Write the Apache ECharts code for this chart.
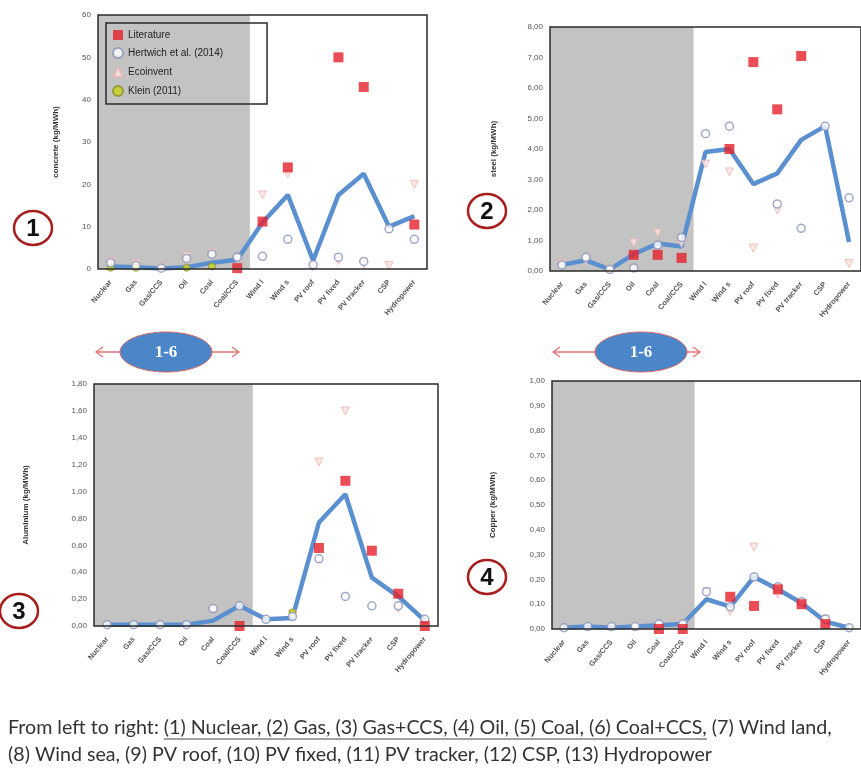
<!DOCTYPE html>
<html>
<head>
<meta charset="utf-8">
<script src="https://cdn.jsdelivr.net/npm/echarts@6/dist/echarts.min.js"></script>
<style>html,body{margin:0;padding:0;background:#fff;}#c{width:861px;height:769px;}</style>
</head>
<body>
<div id="c"></div>
<script>
// ---------------- DATA ----------------
const categories = ['Nuclear','Gas','Gas/CCS','Oil','Coal','Coal/CCS','Wind l','Wind s','PV roof','PV fixed','PV tracker','CSP','Hydropower'];
const shadedCount = 6; // technologies 1-6

// (1) concrete (kg/MWh)
const concreteMean      = [0.6, 0.4, 0.1, 0.4, 1.5, 2.2, 11, 17.5, 2, 17.5, 22.5, 10, 12.5];
const concreteLit       = [null, null, null, null, null, 0.2, 11.2, 24, null, 50, 43, null, 10.5];
const concreteHertwich  = [1.5, 0.8, 0.2, 2.5, 3.5, 2.8, 3, 7, 1, 2.8, 1.8, 9.5, 7];
const concreteEcoinvent = [1.8, 1.2, 0.3, 3, 3.8, 2.5, 17.5, 22.5, 0.5, 2, 1.2, 0.8, 20];
const concreteKlein     = [0.3, 0.3, null, 0.3, 0.6, null, null, null, null, null, null, null, null];

// (2) steel (kg/MWh)
const steelMean      = [0.2, 0.35, 0.05, 0.55, 0.9, 0.8, 3.9, 4.0, 2.85, 3.2, 4.3, 4.75, 0.95];
const steelLit       = [null, null, null, 0.53, 0.53, 0.43, null, 4.0, 6.85, 5.3, 7.05, null, null];
const steelHertwich  = [0.2, 0.45, 0.05, 0.1, 0.85, 1.1, 4.5, 4.75, null, 2.2, 1.4, 4.75, 2.4];
const steelEcoinvent = [0.25, 0.35, 0.05, 0.92, 1.25, 0.9, 3.5, 3.25, 0.75, 2.0, null, null, 0.25];
const steelKlein     = [null, null, null, null, null, null, null, null, null, null, null, null, null];

// (3) Aluminium (kg/MWh)
const alMean      = [0.01, 0.01, 0.01, 0.01, 0.04, 0.15, 0.05, 0.06, 0.77, 0.98, 0.36, 0.22, 0.04];
const alLit       = [null, null, null, null, null, 0.0, null, null, 0.58, 1.08, 0.56, 0.24, 0.0];
const alHertwich  = [0.01, 0.01, 0.01, 0.01, 0.13, 0.15, 0.05, 0.07, 0.5, 0.22, 0.15, 0.15, 0.05];
const alEcoinvent = [null, null, null, null, 0.12, null, null, 0.09, 1.22, 1.6, null, 0.13, null];
const alKlein     = [null, null, null, null, null, null, null, 0.1, null, null, null, null, null];

// (4) Copper (kg/MWh)
const cuMean      = [0.005, 0.01, 0.005, 0.01, 0.015, 0.02, 0.12, 0.09, 0.21, 0.16, 0.105, 0.03, 0.005];
const cuLit       = [null, null, null, null, 0.0, 0.0, null, 0.13, 0.093, 0.16, 0.1, 0.02, null];
const cuHertwich  = [0.005, 0.01, 0.01, 0.01, 0.02, 0.02, 0.15, 0.09, 0.21, 0.17, 0.11, 0.04, 0.005];
const cuEcoinvent = [null, null, null, 0.01, 0.01, 0.02, 0.15, 0.07, 0.33, 0.14, null, 0.04, null];
const cuKlein     = [null, null, null, null, null, null, null, null, null, null, null, null, null];

const seriesNames = ['Literature', 'Hertwich et al. (2014)', 'Ecoinvent', 'Klein (2011)'];
const captionLine1 = 'From left to right: (1) Nuclear, (2) Gas, (3) Gas+CCS, (4) Oil, (5) Coal, (6) Coal+CCS, (7) Wind land,';
const captionLine2 = '(8) Wind sea, (9) PV roof, (10) PV fixed, (11) PV tracker, (12) CSP, (13) Hydropower';
const captionPrefix = 'From left to right: ';
const captionUnderlined = '(1) Nuclear, (2) Gas, (3) Gas+CCS, (4) Oil, (5) Coal, (6) Coal+CCS,';

// ---------------- CHART ----------------
const chart = echarts.init(document.getElementById('c'), null, {renderer: 'canvas'});
const FONT = '"Liberation Sans", Arial, sans-serif';

const panels = [
  {grid: {left: 98, top: 15, width: 329, height: 254}, max: 60, interval: 10, fmt: v => String(v),
   name: 'concrete (kg/MWh)', nameGap: 38,
   mean: concreteMean, lit: concreteLit, her: concreteHertwich, eco: concreteEcoinvent, kle: concreteKlein},
  {grid: {left: 550, top: 27, width: 319, height: 244}, max: 8, interval: 1, fmt: v => v.toFixed(2).replace('.', ','),
   name: 'steel (kg/MWh)', nameGap: 52,
   mean: steelMean, lit: steelLit, her: steelHertwich, eco: steelEcoinvent, kle: steelKlein},
  {grid: {left: 94, top: 384, width: 344, height: 242}, max: 1.8, interval: 0.2, fmt: v => v.toFixed(2).replace('.', ','),
   name: 'Aluminium (kg/MWh)', nameGap: 64,
   mean: alMean, lit: alLit, her: alHertwich, eco: alEcoinvent, kle: alKlein},
  {grid: {left: 552, top: 381, width: 319, height: 248}, max: 1.0, interval: 0.1, fmt: v => v.toFixed(2).replace('.', ','),
   name: 'Copper (kg/MWh)', nameGap: 55,
   mean: cuMean, lit: cuLit, her: cuHertwich, eco: cuEcoinvent, kle: cuKlein}
];

const grids = [], xAxes = [], yAxes = [], series = [];
panels.forEach((p, i) => {
  grids.push(Object.assign({show: true, borderColor: '#2a2a2a', borderWidth: 1.5, backgroundColor: 'transparent', z: 10}, p.grid));
  const catIdx = xAxes.length;
  xAxes.push({
    type: 'category', gridIndex: i, data: categories, boundaryGap: true,
    axisLine: {show: false}, axisTick: {show: false}, splitLine: {show: false},
    axisLabel: {interval: 0, rotate: 50, fontSize: 7.5, color: '#555', margin: 12, fontFamily: FONT, fontWeight: 'bold'}
  });
  // hidden band-index axis used only to place the grey shading over technologies 1-6
  const bandIdx = xAxes.length;
  xAxes.push({
    type: 'value', gridIndex: i, min: 0, max: categories.length, show: false,
    axisLine: {show: false}, axisTick: {show: false}, axisLabel: {show: false}, splitLine: {show: false}
  });
  yAxes.push({
    type: 'value', gridIndex: i, min: 0, max: p.max, interval: p.interval,
    axisLine: {show: false}, axisTick: {show: false}, splitLine: {show: false},
    axisLabel: {formatter: p.fmt, fontSize: 8, color: '#555', margin: 7, fontFamily: FONT},
    name: p.name, nameLocation: 'middle', nameRotate: 90, nameGap: p.nameGap,
    nameTextStyle: {fontSize: 8, color: '#333', fontFamily: FONT, fontWeight: 'bold'}
  });
  series.push({type: 'line', xAxisIndex: bandIdx, yAxisIndex: i, name: 'shade',
    data: [[0, p.max], [shadedCount, p.max]], symbol: 'none', showSymbol: false,
    lineStyle: {width: 0, opacity: 0}, areaStyle: {color: '#c3c3c3', opacity: 1, origin: 'start'},
    silent: true, z: 1});
  series.push({type: 'line', xAxisIndex: catIdx, yAxisIndex: i, data: p.mean, showSymbol: false, symbol: 'none',
    lineStyle: {color: '#5a8fd0', width: 4.5}, z: 3, silent: true, name: 'mean'});
  series.push({type: 'scatter', name: seriesNames[2], xAxisIndex: catIdx, yAxisIndex: i, data: p.eco,
    symbol: 'triangle', symbolRotate: 180, symbolSize: 8,
    itemStyle: {color: '#fbe3e0', borderColor: '#e9b4b0', borderWidth: 1}, z: 4});
  series.push({type: 'scatter', name: seriesNames[3], xAxisIndex: catIdx, yAxisIndex: i, data: p.kle,
    symbol: 'circle', symbolSize: 7,
    itemStyle: {color: '#c8d41a', borderColor: '#8a8f30', borderWidth: 1}, z: 4});
  series.push({type: 'scatter', name: seriesNames[1], xAxisIndex: catIdx, yAxisIndex: i, data: p.her,
    symbol: 'circle', symbolSize: 8,
    itemStyle: {color: '#ffffff', borderColor: '#8a93b8', borderWidth: 1.5}, z: 5});
  series.push({type: 'scatter', name: seriesNames[0], xAxisIndex: catIdx, yAxisIndex: i, data: p.lit,
    symbol: 'rect', symbolSize: 10,
    itemStyle: {color: '#e5202a'}, z: 6});
});

// ------------- graphics (annotations) -------------
const graphics = [];
function circledNumber(cx, cy, txt) {
  graphics.push({type: 'ellipse', shape: {cx: cx, cy: cy, rx: 19, ry: 17},
    style: {fill: '#ffffff', stroke: '#a81e1e', lineWidth: 2.5}, z: 20});
  graphics.push({type: 'text', x: cx, y: cy + 1, style: {text: txt, align: 'center', verticalAlign: 'middle',
    font: 'bold 24px ' + FONT, fill: '#111'}, z: 21});
}
circledNumber(33, 228, '1');
circledNumber(487, 211, '2');
circledNumber(19, 611, '3');
circledNumber(487, 577, '4');

function rangeBadge(cx, cy, x0, x1) {
  const ac = '#e07272';
  graphics.push({type: 'line', shape: {x1: x0, y1: cy, x2: x1, y2: cy}, style: {stroke: ac, lineWidth: 1.3}, z: 19});
  graphics.push({type: 'polyline', shape: {points: [[x0 + 7, cy - 5], [x0, cy], [x0 + 7, cy + 5]]}, style: {stroke: ac, lineWidth: 1.3, fill: null}, z: 19});
  graphics.push({type: 'polyline', shape: {points: [[x1 - 7, cy - 5], [x1, cy], [x1 - 7, cy + 5]]}, style: {stroke: ac, lineWidth: 1.3, fill: null}, z: 19});
  graphics.push({type: 'ellipse', shape: {cx: cx, cy: cy, rx: 46, ry: 20},
    style: {fill: '#4a86c8', stroke: '#d26a6a', lineWidth: 1}, z: 20});
  graphics.push({type: 'text', x: cx, y: cy + 1, style: {text: '1-6', align: 'center', verticalAlign: 'middle',
    font: 'bold 17px "Liberation Serif", serif', fill: '#ffffff'}, z: 21});
}
rangeBadge(166, 352, 96, 239);
rangeBadge(641, 352, 553, 700);

// caption: size the font so line 1 spans the same width as in the reference
const meas = document.createElement('canvas').getContext('2d');
const capFamily = 'Lato, "Open Sans", sans-serif';
meas.font = '20px ' + capFamily;
const capSize = Math.min(20, 20 * 824 / meas.measureText(captionLine1).width);
const CAP_FONT = capSize.toFixed(2) + 'px ' + capFamily;
meas.font = CAP_FONT;
const capX = 8;
const ulStart = capX + meas.measureText(captionPrefix).width;
const ulEnd = capX + meas.measureText(captionPrefix + captionUnderlined).width;
graphics.push({type: 'text', x: capX, y: 728, style: {text: captionLine1, align: 'left', verticalAlign: 'middle', font: CAP_FONT, fill: '#333'}});
graphics.push({type: 'text', x: capX, y: 755, style: {text: captionLine2, align: 'left', verticalAlign: 'middle', font: CAP_FONT, fill: '#333'}});
graphics.push({type: 'line', shape: {x1: ulStart, y1: 739, x2: ulEnd, y2: 739}, style: {stroke: '#444', lineWidth: 1}});

chart.setOption({
  animation: false,
  backgroundColor: '#ffffff',
  textStyle: {fontFamily: FONT},
  grid: grids,
  xAxis: xAxes,
  yAxis: yAxes,
  legend: {
    data: seriesNames, orient: 'vertical', left: 106, top: 23,
    itemWidth: 10, itemHeight: 10, itemGap: 7,
    padding: [7, 44, 7, 6],
    borderColor: '#2a2a2a', borderWidth: 1.5, backgroundColor: 'transparent',
    textStyle: {fontSize: 10, color: '#222', fontFamily: FONT},
    selectedMode: false, z: 15
  },
  series: series,
  graphic: graphics
});
</script>
</body>
</html>
